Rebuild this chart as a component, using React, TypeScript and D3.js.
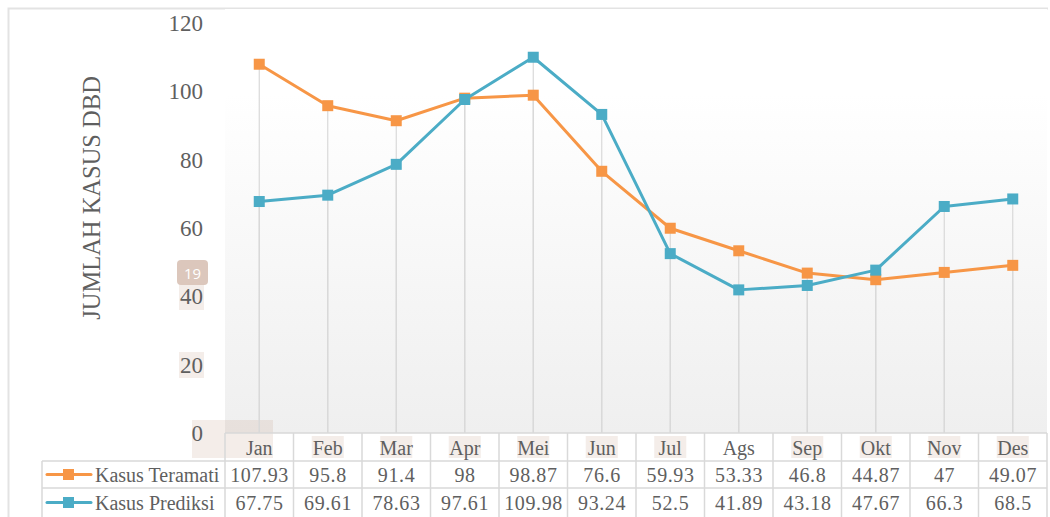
import React from 'react';
import * as d3 from 'd3';

const months = ['Jan', 'Feb', 'Mar', 'Apr', 'Mei', 'Jun', 'Jul', 'Ags', 'Sep', 'Okt', 'Nov', 'Des'];
const teramati = [107.93, 95.8, 91.4, 98, 98.87, 76.6, 59.93, 53.33, 46.8, 44.87, 47, 49.07];
const prediksi = [67.75, 69.61, 78.63, 97.61, 109.98, 93.24, 52.5, 41.89, 43.18, 47.67, 66.3, 68.5];
const teramatiLabels = ['107.93', '95.8', '91.4', '98', '98.87', '76.6', '59.93', '53.33', '46.8', '44.87', '47', '49.07'];
const prediksiLabels = ['67.75', '69.61', '78.63', '97.61', '109.98', '93.24', '52.5', '41.89', '43.18', '47.67', '66.3', '68.5'];
const yTicks = [0, 20, 40, 60, 80, 100, 120];
// months that carry a highlight mark in the source document
const highlighted = ['Feb', 'Mar', 'Apr', 'Mei', 'Jun', 'Jul', 'Sep', 'Okt', 'Nov', 'Des'];

const series = [
    {name: 'Kasus Teramati', values: teramati, labels: teramatiLabels, color: '#F79646'},
    {name: 'Kasus Prediksi', values: prediksi, labels: prediksiLabels, color: '#4BACC6'},
];

const W = 1050;
const H = 517;
const plot = {left: 225, right: 1047, top: 23, bottom: 433};
const rowH = [433, 461, 488, 517];
const font = '"Liberation Serif", "Times New Roman", serif';
const textColor = '#5f5f5f';
const gridColor = '#d9d9d9';
const hl = 'rgba(205, 175, 155, 0.22)';

const App = () => {
    const x = d3.scaleBand().domain(months).range([plot.left, plot.right]);
    const y = d3.scaleLinear().domain([0, 120]).range([plot.bottom, plot.top]);
    const cx = (m) => x(m) + x.bandwidth() / 2;

    const line = d3
        .line()
        .x((d, i) => cx(months[i]))
        .y((d) => y(d));

    return (
        <svg width={W} height={H} style={{position: 'absolute', left: 0, top: 0}}>
            <defs>
                <linearGradient id="bg" x1="0" y1="0" x2="0" y2="1">
                    <stop offset="0.2" stopColor="#ffffff" />
                    <stop offset="1" stopColor="#efefef" />
                </linearGradient>
            </defs>
            <rect x={0} y={0} width={W} height={H} fill="#fff" />
            {/* outer frame */}
            <path d={`M8.5,${H} V8.5 H${W - 2}`} fill="none" stroke="#e3e3e3" strokeWidth={2} />

            {/* plot background */}
            <rect x={plot.left} y={plot.top - 14} width={plot.right - plot.left} height={plot.bottom - plot.top + 14} fill="url(#bg)" />

            {/* y axis title */}
            <text
                transform={`translate(100,198) rotate(-90)`}
                textAnchor="middle"
                fontFamily={font}
                fontSize={24.5}
                fill={textColor}
            >
                JUMLAH KASUS DBD
            </text>

            {/* highlight marks */}
            <rect x={192} y={420} width={81} height={38} fill={hl} />
            <rect x={179} y={284} width={25} height={26} fill={hl} />
            <rect x={179} y={352} width={25} height={26} fill={hl} />
            <rect x={177} y={260} width={31} height={25} rx={4} fill="#dcc7bc" />
            <text x={192.5} y={278.5} textAnchor="middle" fontFamily="'Open Sans', sans-serif" fontSize={15} fill="#fff">
                19
            </text>

            {/* y tick labels */}
            {yTicks.map((t) => (
                <text key={t} x={203} y={y(t) + 8} textAnchor="end" fontFamily={font} fontSize={23} fill={textColor}>
                    {t}
                </text>
            ))}

            {/* drop lines */}
            {series.map((s) =>
                s.values.map((v, i) => (
                    <line
                        key={s.name + i}
                        x1={cx(months[i])}
                        x2={cx(months[i])}
                        y1={y(v)}
                        y2={plot.bottom}
                        stroke={gridColor}
                        strokeWidth={1.2}
                    />
                ))
            )}

            {/* data table grid */}
            <g stroke={gridColor} strokeWidth={1.5} fill="none">
                <line x1={plot.left} x2={plot.right} y1={rowH[0]} y2={rowH[0]} />
                <line x1={42} x2={plot.right} y1={rowH[1]} y2={rowH[1]} />
                <line x1={42} x2={plot.right} y1={rowH[2]} y2={rowH[2]} />
                <line x1={42} x2={42} y1={rowH[1]} y2={H} />
                {months.map((m) => (
                    <line key={m} x1={x(m)} x2={x(m)} y1={rowH[0]} y2={H} />
                ))}
                <line x1={plot.right} x2={plot.right} y1={rowH[0]} y2={H} />
            </g>

            {/* month highlight marks */}
            {highlighted.map((m) => (
                <rect key={m} x={cx(m) - 16} y={436} width={32} height={22} fill={hl} />
            ))}

            {/* month labels */}
            {months.map((m) => (
                <text key={m} x={cx(m)} y={455} textAnchor="middle" fontFamily={font} fontSize={20} fill={textColor}>
                    {m}
                </text>
            ))}

            {/* series lines and markers */}
            {series.map((s) => (
                <g key={s.name}>
                    <path d={line(s.values)} fill="none" stroke={s.color} strokeWidth={3} strokeLinejoin="round" />
                    {s.values.map((v, i) => (
                        <rect key={i} x={cx(months[i]) - 5.5} y={y(v) - 5.5} width={11} height={11} fill={s.color} />
                    ))}
                </g>
            ))}

            {/* table rows */}
            {series.map((s, r) => {
                const mid = (rowH[r + 1] + rowH[r + 2]) / 2;
                return (
                    <g key={s.name}>
                        <line x1={47} x2={91} y1={mid} y2={mid} stroke={s.color} strokeWidth={3} strokeLinecap="round" />
                        <rect x={63} y={mid - 5.5} width={11} height={11} fill={s.color} />
                        <text x={95} y={mid + 7} fontFamily={font} fontSize={20} fill={textColor}>
                            {s.name}
                        </text>
                        {s.labels.map((lb, i) => (
                            <text
                                key={i}
                                x={cx(months[i]) + 0.3}
                                y={mid + 7}
                                textAnchor="middle"
                                fontFamily={font}
                                fontSize={20}
                                letterSpacing={0.6}
                                fill={textColor}
                            >
                                {lb}
                            </text>
                        ))}
                    </g>
                );
            })}
        </svg>
    );
};

export default App;
